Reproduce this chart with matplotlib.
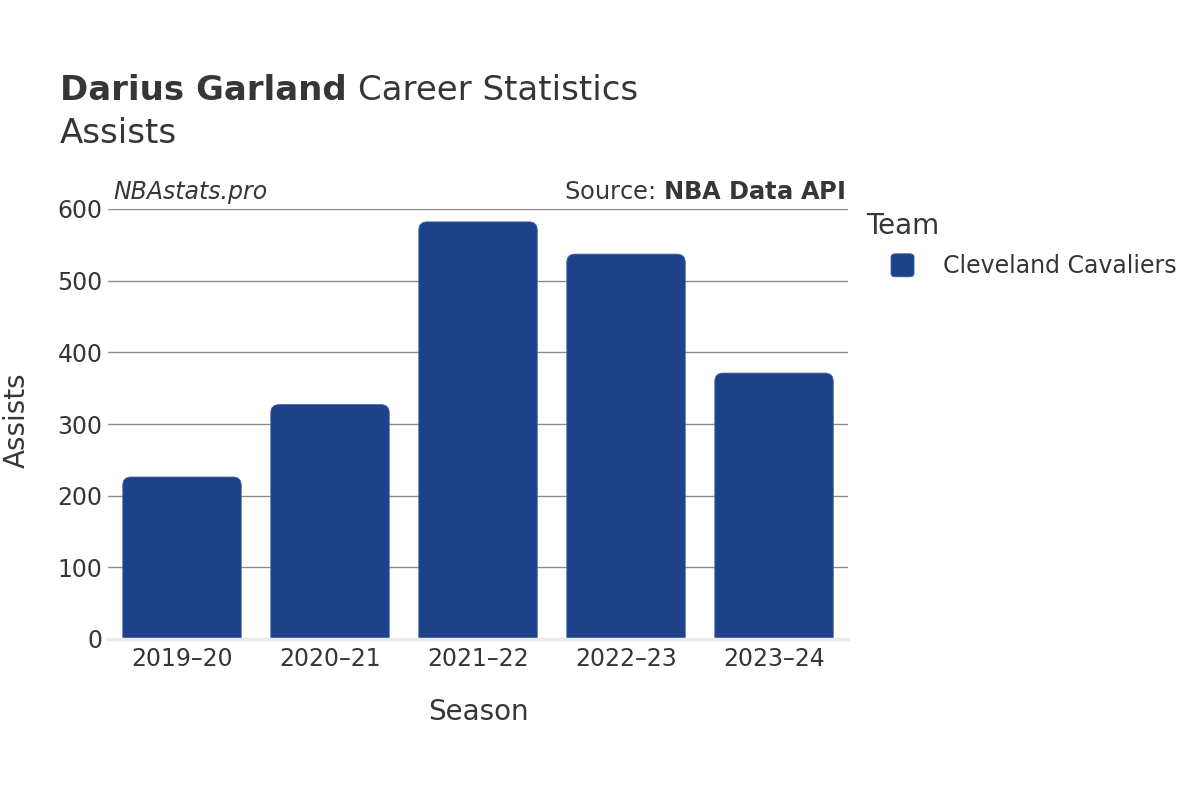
import matplotlib
matplotlib.use("Agg")
import matplotlib.pyplot as plt
from matplotlib.patches import FancyBboxPatch
import numpy as np

# data
seasons = ['2019–20', '2020–21', '2021–22', '2022–23', '2023–24']
assists = [226, 327, 582, 537, 371]
team = 'Cleveland Cavaliers'
bar_color = '#1d428a'
text_color = '#363636'

plt.rcParams['font.family'] = ['DejaVu Sans']

fig = plt.figure(figsize=(12, 8), dpi=100)
ax = fig.add_axes([0.09, 0.20125, 0.6167, 0.5375])

x = np.arange(len(seasons))
bars = ax.bar(x, assists, width=0.8, color=bar_color, alpha=0)

# rounded top corners: draw a rounded box per bar, extending below zero so the
# bottom corners are clipped by the axes
ry = 11.5          # corner radius in data units (y)
rx = 0.055         # corner radius in data units (x)
for b in bars:
    patch = FancyBboxPatch((b.get_x(), -30), b.get_width(), b.get_height() + 30,
                           boxstyle=f"round,pad=0,rounding_size={rx}",
                           mutation_aspect=ry / rx,
                           facecolor=bar_color, edgecolor='#3a5fa8', linewidth=0.6,
                           zorder=2)
    ax.add_patch(patch)

ax.set_xlim(-0.5, len(seasons) - 0.5)
ax.set_ylim(0, 600)
ax.set_yticks([0, 100, 200, 300, 400, 500, 600])
ax.set_xticks(x)
ax.set_xticklabels(seasons)

ax.grid(axis='y', color='#8c8c8c', linewidth=1.0, zorder=0)
ax.set_axisbelow(True)
ax.axhline(0, color='#ebebeb', linewidth=2.5, zorder=3, clip_on=False)
for s in ax.spines.values():
    s.set_visible(False)
ax.tick_params(axis='both', length=0, labelsize=17, colors=text_color, pad=6)
ax.tick_params(axis='y', pad=4)

ax.set_xlabel('Season', fontsize=20, color=text_color, labelpad=19)
ax.set_ylabel('Assists', fontsize=20, color=text_color)
ax.yaxis.set_label_coords(-0.105, 0.51)

# titles
t1 = fig.text(0.05, 0.875, 'Darius Garland', fontsize=24.5, fontweight='bold',
              color=text_color, va='baseline')
fig.canvas.draw()
bb = t1.get_window_extent(fig.canvas.get_renderer())
fig.text((bb.x1 + 11) / fig.bbox.width, 0.875, 'Career Statistics', fontsize=24.5,
         color=text_color, va='baseline')
fig.text(0.05, 0.821, 'Assists', fontsize=24.5, color=text_color, va='baseline')

# watermark and source
ax.text(0.007, 1.012, 'NBAstats.pro', transform=ax.transAxes, fontsize=17, style='italic',
        color=text_color, va='bottom', ha='left')
ax.text(0.996, 1.012, 'Source: $\\bf{NBA\\ Data\\ API}$', transform=ax.transAxes, fontsize=17.4,
        color=text_color, va='bottom', ha='right')

# legend
fig.text(0.722, 0.707, 'Team', fontsize=20, color=text_color, va='baseline')
fig.patches.append(FancyBboxPatch((0.7425, 0.654), 0.0192, 0.0288,
                                  boxstyle="round,pad=0,rounding_size=0.004",
                                  transform=fig.transFigure, facecolor=bar_color,
                                  edgecolor='#3a5fa8', linewidth=0.6, figure=fig))
fig.text(0.786, 0.659, team, fontsize=17, color=text_color, va='baseline')

fig.savefig('out.png', dpi=100, facecolor='white')
